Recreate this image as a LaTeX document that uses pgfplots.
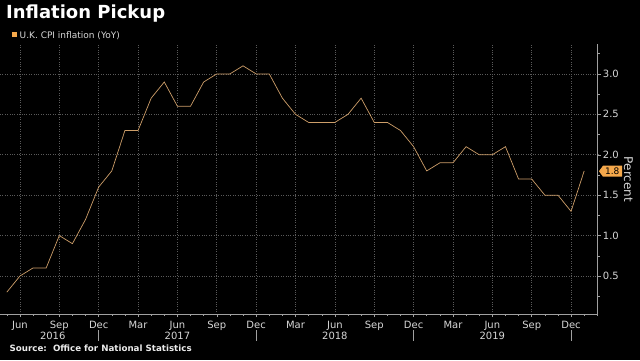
\documentclass[border=0pt]{standalone}
\usepackage{pgfplots}
\pgfplotsset{compat=1.18}
\usepackage{fontspec}
\setmainfont{DejaVu Sans}
\definecolor{linec}{RGB}{205,158,105}
\definecolor{tagc}{RGB}{245,168,75}
\definecolor{gridc}{RGB}{90,90,90}
\definecolor{axisc}{RGB}{160,160,160}
\definecolor{lbl}{RGB}{215,215,215}
\pgfplotstableread{
m v
4 0.3
5 0.5
6 0.6
7 0.6
8 1.0
9 0.9
10 1.2
11 1.6
12 1.8
13 2.3
14 2.3
15 2.7
16 2.9
17 2.6
18 2.6
19 2.9
20 3.0
21 3.0
22 3.1
23 3.0
24 3.0
25 2.7
26 2.5
27 2.4
28 2.4
29 2.4
30 2.5
31 2.7
32 2.4
33 2.4
34 2.3
35 2.1
36 1.8
37 1.9
38 1.9
39 2.1
40 2.0
41 2.0
42 2.1
43 1.7
44 1.7
45 1.5
46 1.5
47 1.3
48 1.8
}\cpi
\begin{document}
\begin{tikzpicture}[x=1pt,y=1pt]
\fill[black] (0,0) rectangle (640,360);
\path[use as bounding box] (0,0) rectangle (640,360);
\node[anchor=base west, inner sep=0, text=white, font=\bfseries\fontsize{18}{18}\selectfont] at (6,342) {Inflation Pickup};
\fill[tagc] (12,323.5) rectangle (17,328.5);
\node[anchor=base west, inner sep=0, text=lbl, font=\fontsize{9}{10}\selectfont] at (19.5,321.7) {U.K. CPI inflation (YoY)};
\node[anchor=base west, inner sep=0, text=white!92!black, font=\bfseries\fontsize{8.7}{9}\selectfont] at (9.5,8.5) {Source:\ \ Office for National Statistics};
\node[rotate=-90, inner sep=0, text=lbl, font=\fontsize{12}{12}\selectfont] at (628.5,180.5) {Percent};
\fill[tagc] (599,188.8) -- (603,194.3) -- (622,194.3) -- (622,183.3) -- (603,183.3) -- cycle;
\node[anchor=center, inner sep=0, text=black, font=\fontsize{9}{9}\selectfont] at (612.3,188.8) {1.8};
\begin{axis}[
  at={(0pt,46pt)}, anchor=south west,
  scale only axis, width=597.7pt, height=270pt,
  xmin=3.48, xmax=49.03, ymin=0.03, ymax=3.37,
  axis x line*=bottom, axis y line*=right,
  axis line style={draw=axisc, line width=0.6pt, -},
  xtick={5,8,...,47},
  xticklabels={Jun,Sep,Dec,Mar,Jun,Sep,Dec,Mar,Jun,Sep,Dec,Mar,Jun,Sep,Dec},
  minor xtick={4,...,49},
  ytick={0.5,1,...,3},
  minor ytick={0.25,0.75,...,3.25},
  tick align=outside,
  major tick length=3pt, minor tick length=2pt,
  tick style={draw=axisc, line width=0.5pt},
  grid=major,
  major grid style={draw=gridc, dotted, line width=0.6pt},
  xticklabel style={font=\fontsize{10}{10}\selectfont, text=lbl, anchor=base, inner sep=0pt, yshift=-11pt},
  yticklabel style={font=\fontsize{10}{10}\selectfont, text=lbl, anchor=west, inner sep=0pt, xshift=2pt,
     /pgf/number format/fixed, /pgf/number format/fixed zerofill, /pgf/number format/precision=1},
  /pgf/number format/assume math mode=true,
  clip=false,
]
\addplot[linec, line width=0.7pt, no marks] table[x=m, y=v] {\cpi};
\foreach \yr/\xp in {2016/7.5, 2017/17, 2018/29, 2019/41} {
  \edef\tmp{\noexpand\node[anchor=base, inner sep=0pt, text=lbl, font=\noexpand\fontsize{10}{10}\noexpand\selectfont] at ([yshift=-25pt]axis cs:\xp,0.03) {\yr};}
  \tmp
}
\foreach \xs in {11,23,35,47} {
  \edef\tmp{\noexpand\draw[axisc, line width=0.5pt] ([yshift=-16pt]axis cs:\xs,0.03) -- ([yshift=-27pt]axis cs:\xs,0.03);}
  \tmp
}
\end{axis}
\end{tikzpicture}
\end{document}
